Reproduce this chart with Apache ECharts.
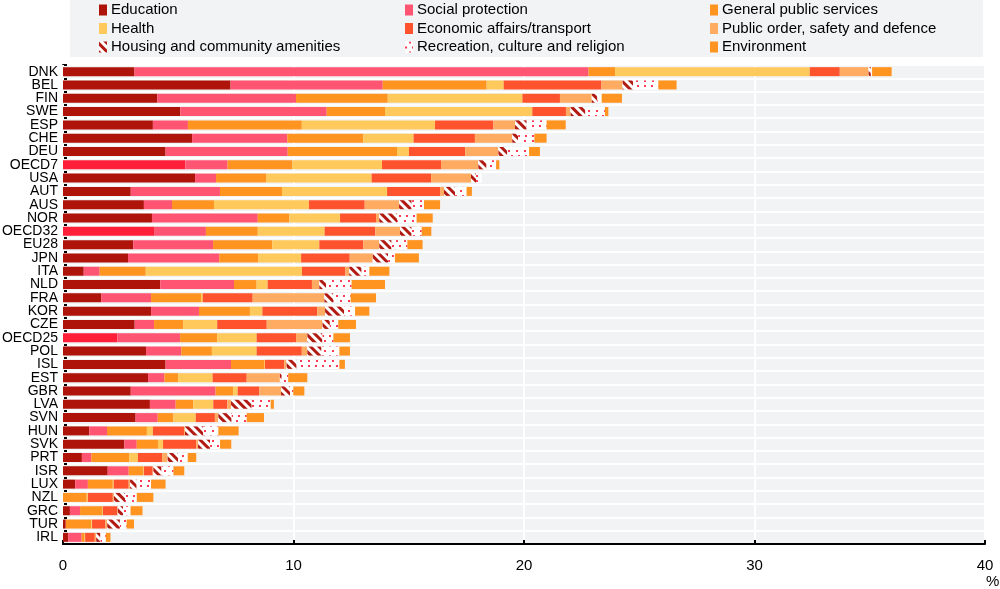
<!DOCTYPE html>
<html><head><meta charset="utf-8">
<script src="https://cdn.jsdelivr.net/npm/echarts@6/dist/echarts.min.js"></script>
<style>html,body{margin:0;padding:0;background:#fff}#c{width:1000px;height:589px}</style>
</head><body><div id="c"></div>
<script>
const categories = ['DNK','BEL','FIN','SWE','ESP','CHE','DEU','OECD7','USA','AUT','AUS','NOR','OECD32','EU28','JPN','ITA','NLD','FRA','KOR','CZE','OECD25','POL','ISL','EST','GBR','LVA','SVN','HUN','SVK','PRT','ISR','LUX','NZL','GRC','TUR','IRL'];
const averages = ['OECD7','OECD32','OECD25'];
const seriesNames = ['Education','Social protection','General public services','Health','Economic affairs/transport','Public order, safety and defence','Housing and community amenities','Recreation, culture and religion','Environment'];
const education = [3.1,7.27,4.09,5.09,3.90,5.60,4.45,5.31,5.73,2.94,3.51,3.86,3.95,3.05,2.82,0.90,4.22,1.66,3.82,3.11,2.36,3.60,4.45,3.69,2.94,3.77,3.15,1.14,2.66,0.82,1.94,0.53,0,0.30,0.12,0.23];
const socialProtection = [19.7,6.6,6.02,6.35,1.52,4.13,5.30,1.83,0.91,3.87,1.22,4.59,2.25,3.46,3.96,0.69,3.20,2.16,2.08,0.84,2.72,1.53,2.84,0.71,3.68,1.12,0.96,0.77,0.54,0.41,0.91,0.55,0,0.44,0,0.58];
const generalPublic = [1.15,4.51,3.98,2.53,4.94,3.30,4.74,2.81,2.17,2.69,1.82,1.37,2.25,2.57,1.69,2.00,0.98,2.17,2.21,1.26,1.61,1.33,1.43,0.60,0.77,0.76,0.68,1.73,0.92,1.65,0.63,1.08,1.03,0.97,1.11,0.13];
const health = [8.45,0.74,5.84,6.39,5.78,2.18,0.52,3.89,4.58,4.56,4.12,2.20,2.90,2.04,1.86,6.78,0.48,0.07,0.54,1.48,1.71,1.94,0.04,1.49,0.19,0.87,0.97,0.26,0.22,0.37,0.03,0.04,0.05,0.02,0.03,0.02];
const economic = [1.3,4.24,1.63,1.46,2.53,2.66,2.44,2.56,2.58,2.30,2.42,1.56,2.20,1.91,2.11,1.88,1.92,2.17,2.38,2.15,1.71,1.96,0.84,1.48,0.94,0.61,0.83,1.35,1.44,1.05,0.38,0.65,1.08,0.63,0.58,0.42];
const publicOrder = [1.25,0.92,1.38,0.20,0.94,1.62,1.44,1.62,1.73,0.17,1.49,0.14,1.07,0.69,1.00,0.17,0.32,3.11,0.34,2.42,0.49,0.24,0.10,1.44,0.94,0.16,0.15,0.04,0.08,0.24,0.03,0.06,0.05,0.02,0.08,0.06];
const housing = [0.1,0.46,0.25,0.65,0.51,0.26,0.39,0.36,0.22,0.48,0.55,0.78,0.51,0.54,0.67,0.54,0.29,0.39,0.83,0.32,0.66,0.62,0.44,0.08,0.39,0.90,0.58,0.80,0.52,0.46,0.36,0.29,0.48,0.23,0.55,0.19];
const recreation = [0.05,1.09,0.18,0.84,0.86,0.70,0.94,0.41,0.24,0.50,0.53,0.84,0.43,0.68,0.29,0.33,1.11,0.75,0.47,0.36,0.47,0.77,1.85,0.28,0.14,0.82,0.65,0.65,0.43,0.41,0.51,0.62,0.51,0.32,0.29,0.23];
const environment = [0.85,0.79,0.88,0.15,0.83,0.53,0.47,0.14,0,0.23,0.70,0.70,0.42,0.66,1.04,0.87,1.45,1.10,0.62,0.77,0.72,0.46,0.24,0.83,0.48,0.14,0.75,0.88,0.49,0.37,0.47,0.63,0.72,0.52,0.32,0.20];
const xTicks = [0,10,20,30,40];

const FONT = "'Liberation Sans','Arial',sans-serif";
const colors = ['#ae1409','#ff5573','#ff9421','#ffc95c','#ff532d','#ffac62','#ffffff','#ffffff','#ff9421'];
const values = [education,socialProtection,generalPublic,health,economic,publicOrder,housing,recreation,environment];
const decals = {
  6: {symbol:'rect', color:'#b01a12', backgroundColor:'#ffffff', dashArrayX:[1,0], dashArrayY:[2.2,2.2], rotation:Math.PI/4},
  7: {symbol:'rect', color:'#ff3a55', backgroundColor:'#ffffff', dashArrayX:[[1.5,5],[0,3.25,1.5,1.75]], dashArrayY:[1.5,3]}
};

const series = values.map((arr, si) => {
  const s = {
    name: seriesNames[si], type:'bar', stack:'total', barWidth:9,
    itemStyle:{color:colors[si]},
    data: arr.map((v, i) => {
      if (si === 0 && averages.includes(categories[i])) return {value:v, itemStyle:{color:'#ff1f38'}};
      return v;
    })
  };
  if (decals[si]) s.itemStyle.decal = decals[si];
  return s;
});

const legendCommon = {orient:'vertical', top:1.5, padding:0, itemWidth:8, itemHeight:11, itemGap:1.5, icon:'rect',
  textStyle:{fontFamily:FONT, fontSize:15, color:'#000', lineHeight:17, padding:[0,0,0,-1]}, selectedMode:false};

const chart = echarts.init(document.getElementById('c'), null, {renderer:'canvas'});
chart.setOption({
  animation:false,
  legend:[
    Object.assign({left:99, data:[seriesNames[0],seriesNames[3],seriesNames[6]]}, legendCommon),
    Object.assign({left:405, data:[seriesNames[1],seriesNames[4],seriesNames[7]]}, legendCommon),
    Object.assign({left:710, data:[seriesNames[2],seriesNames[5],seriesNames[8]]}, legendCommon)
  ],
  graphic:[
    {type:'rect', shape:{x:70,y:0,width:913,height:57}, style:{fill:'#f2f3f5'}, z:-10, silent:true},
    {type:'text', left:986, top:574, style:{text:'%', font:'15px '+FONT, fill:'#000'}}
  ],
  grid:{left:63, right:15, top:65, bottom:45, outerBoundsMode:'none', containLabel:false},
  xAxis:{type:'value', min:xTicks[0], max:xTicks[xTicks.length-1], interval:10, z:1,
    axisLine:{show:true, lineStyle:{color:'#000', width:2}},
    axisTick:{show:true, inside:true, length:4, lineStyle:{color:'#000', width:2}},
    axisLabel:{fontFamily:FONT, fontSize:15, color:'#000', margin:14},
    splitLine:{show:true, lineStyle:{color:'#ffffff', width:2}}
  },
  yAxis:{type:'category', data:categories, inverse:true, z:0,
    axisLine:{show:true, lineStyle:{color:'#000', width:2}},
    axisTick:{show:true, inside:true, length:4, interval:0, lineStyle:{color:'#000', width:2}},
    axisLabel:{fontFamily:FONT, fontSize:14, color:'#000', margin:5, interval:0},
    splitLine:{show:true, interval:0, lineStyle:{color:'#ffffff', width:2}},
    splitArea:{show:true, interval:0, areaStyle:{color:['#f2f3f5']}}
  },
  series: series
});
</script></body></html>
